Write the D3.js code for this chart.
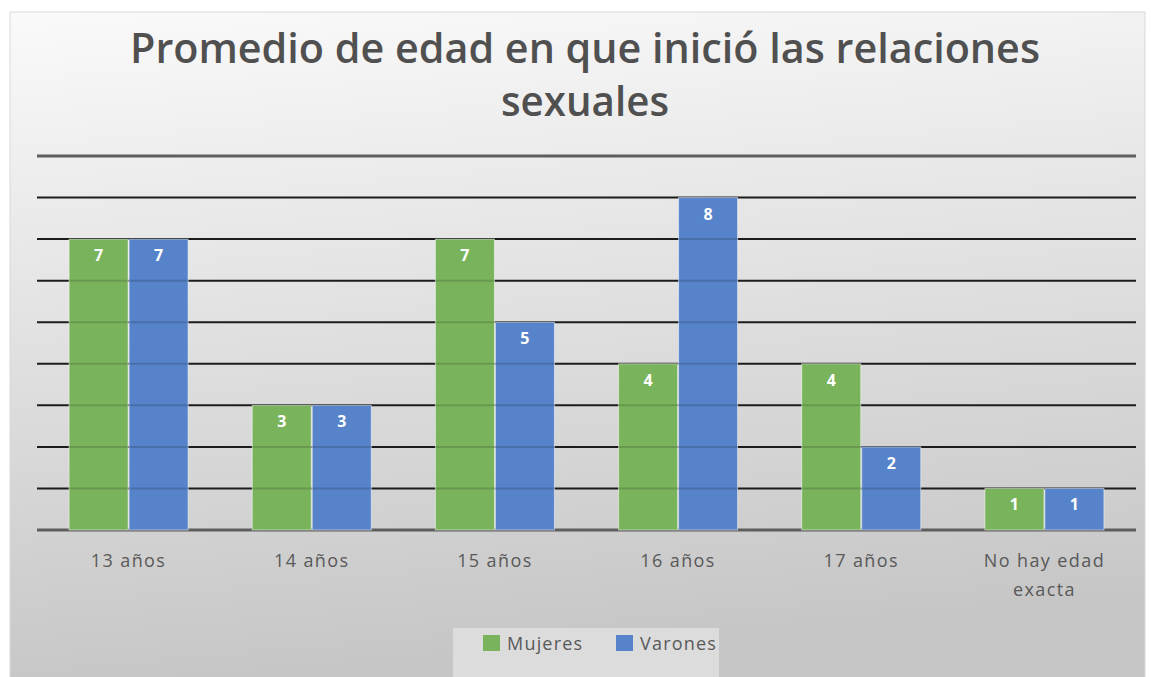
<!DOCTYPE html>
<html>
<head>
<meta charset="utf-8">
<style>
  body { margin: 0; overflow: hidden; background: #fff; }
  text { font-family: "Open Sans", sans-serif; }
</style>
<script src="https://cdn.jsdelivr.net/npm/d3@7"></script>
</head>
<body>
<svg id="chart"></svg>
<script>
var categories = [["13 años"], ["14 años"], ["15 años"], ["16 años"], ["17 años"], ["No hay edad", "exacta"]];
var mujeres = [7, 3, 7, 4, 4, 1];
var varones = [7, 3, 5, 8, 2, 1];
var seriesNames = ["Mujeres", "Varones"];
var colors = ["#79b35b", "#5683c9"];
var yTicks = d3.range(0, 10);

var width = 1151, height = 677;

var svg = d3.select("#chart")
    .attr("width", width)
    .attr("height", height);

var defs = svg.append("defs");
var grad = defs.append("linearGradient")
    .attr("id", "bg")
    .attr("x1", 0).attr("y1", 0).attr("x2", 0.15).attr("y2", 1);
grad.append("stop").attr("offset", "0%").attr("stop-color", "#fafafa");
grad.append("stop").attr("offset", "100%").attr("stop-color", "#c6c6c6");

svg.append("rect")
    .attr("x", 10).attr("y", 12)
    .attr("width", 1135).attr("height", 670)
    .attr("fill", "url(#bg)")
    .attr("stroke", "#d9d9d9");

// title, two lines
var titleLines = ["Promedio de edad en que inició las relaciones", "sexuales"];
var titleWidths = [910, 168];
svg.append("g").selectAll("text")
    .data(titleLines)
  .enter().append("text")
    .attr("x", 585)
    .attr("y", function(d, i) { return 63 + i * 53; })
    .attr("text-anchor", "middle")
    .attr("font-size", 42)
    .attr("font-weight", 600)
    .attr("fill", "#505050")
    .attr("textLength", function(d, i) { return titleWidths[i]; })
    .attr("lengthAdjust", "spacingAndGlyphs")
    .text(function(d) { return d; });

var x = d3.scaleBand()
    .domain(d3.range(categories.length))
    .range([37, 1136]);

var y = d3.scaleLinear().domain([0, 9]).range([530, 156]);

var bw = 60;

svg.append("g").selectAll("line")
    .data(yTicks)
  .enter().append("line")
    .attr("x1", 37).attr("x2", 1136)
    .attr("y1", function(d) { return y(d); })
    .attr("y2", function(d) { return y(d); })
    .attr("stroke", function(d) { return (d === 0 || d === 9) ? "#5e5e5e" : "#1c1c1c"; })
    .attr("stroke-width", function(d) { return (d === 0 || d === 9) ? 3 : 2; });

var data = [];
categories.forEach(function(c, i) {
  data.push({i: i, s: 0, v: mujeres[i]});
  data.push({i: i, s: 1, v: varones[i]});
});

function barX(d) { return x(d.i) + x.bandwidth() / 2 - bw + d.s * bw; }

var bars = svg.append("g");
bars.selectAll("rect")
    .data(data)
  .enter().append("rect")
    .attr("x", function(d) { return barX(d) + 0.5; })
    .attr("y", function(d) { return y(d.v); })
    .attr("width", bw - 1)
    .attr("height", function(d) { return y(0) - y(d.v); })
    .attr("fill", function(d) { return colors[d.s]; })
    .attr("stroke", "rgba(255,255,255,0.5)")
    .attr("stroke-width", 1);

// gridlines seen through the bars
svg.append("g").selectAll("g")
    .data(data.filter(function(d) { return d.v > 1; }))
  .enter().append("g")
    .each(function(d) {
      var bx = barX(d);
      d3.select(this).selectAll("line")
          .data(d3.range(1, d.v))
        .enter().append("line")
          .attr("x1", bx + 1).attr("x2", bx + bw - 1)
          .attr("y1", function(t) { return y(t); })
          .attr("y2", function(t) { return y(t); })
          .attr("stroke", "rgba(0,0,0,0.15)")
          .attr("stroke-width", 2);
    });

bars.selectAll("text")
    .data(data)
  .enter().append("text")
    .attr("x", function(d) { return barX(d) + bw / 2; })
    .attr("y", function(d) { return y(d.v) + 22; })
    .attr("text-anchor", "middle")
    .attr("font-size", 16)
    .attr("font-weight", 700)
    .attr("fill", "#ffffff")
    .text(function(d) { return d.v; });

// category labels
svg.append("g").selectAll("text")
    .data(categories)
  .enter().append("text")
    .attr("text-anchor", "middle")
    .attr("font-size", 18)
    .attr("letter-spacing", 1.4)
    .attr("fill", "#595959")
    .each(function(lines, i) {
      d3.select(this).selectAll("tspan")
          .data(lines)
        .enter().append("tspan")
          .attr("x", x(i) + x.bandwidth() / 2)
          .attr("y", function(l, j) { return 567 + j * 29; })
          .text(function(l) { return l; });
    });

// legend
var legend = svg.append("g");
legend.append("rect")
    .attr("x", 453).attr("y", 628)
    .attr("width", 266).attr("height", 49)
    .attr("fill", "#dcdcdc");
var lx = [483, 616];
seriesNames.forEach(function(n, i) {
  legend.append("rect")
      .attr("x", lx[i]).attr("y", 635)
      .attr("width", 17).attr("height", 16)
      .attr("fill", colors[i]);
  legend.append("text")
      .attr("x", lx[i] + 24).attr("y", 650)
      .attr("font-size", 18)
      .attr("letter-spacing", 1.2)
      .attr("fill", "#595959")
      .text(n);
});
</script>
</body>
</html>
